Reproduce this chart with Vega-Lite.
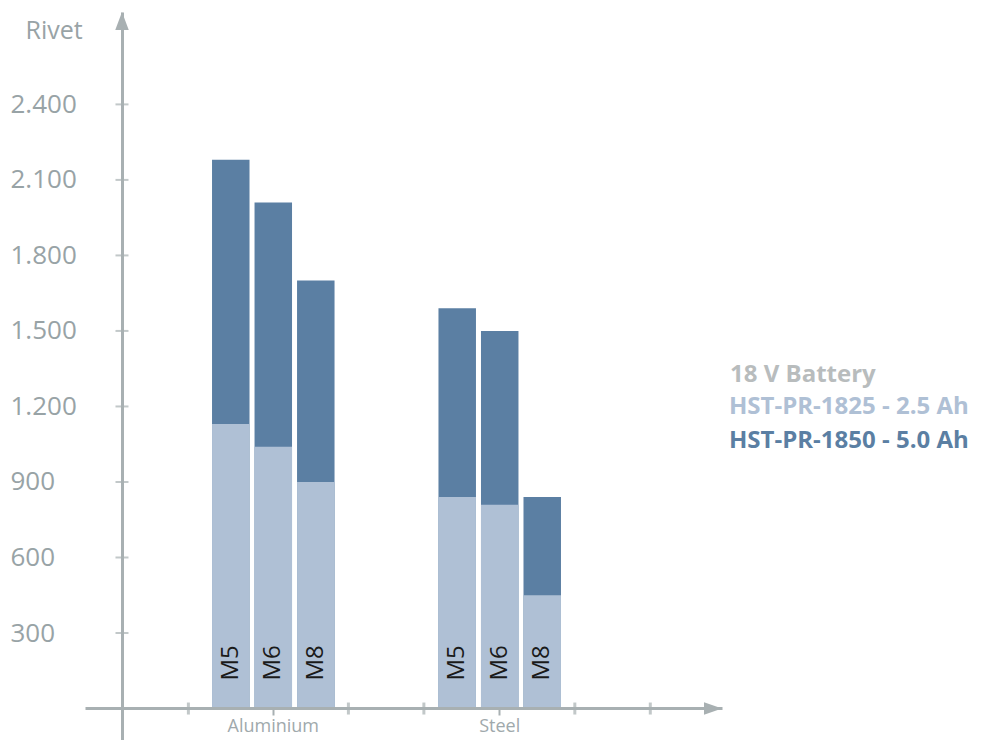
{
  "$schema": "https://vega.github.io/schema/vega-lite/v6.json",
  "autosize": {"type": "none"},
  "width": 637,
  "height": 728,
  "padding": {"left": 85, "top": 12, "right": 266, "bottom": 0},
  "background": "white",
  "config": {
    "view": {"stroke": null},
    "font": "Open Sans"
  },
  "layer": [
    {
      "data": {
        "values": [
          {"material": "Aluminium", "size": "M5", "battery": "HST-PR-1850 - 5.0 Ah", "rivets": 2180},
          {"material": "Aluminium", "size": "M6", "battery": "HST-PR-1850 - 5.0 Ah", "rivets": 2010},
          {"material": "Aluminium", "size": "M8", "battery": "HST-PR-1850 - 5.0 Ah", "rivets": 1700},
          {"material": "Steel", "size": "M5", "battery": "HST-PR-1850 - 5.0 Ah", "rivets": 1590},
          {"material": "Steel", "size": "M6", "battery": "HST-PR-1850 - 5.0 Ah", "rivets": 1500},
          {"material": "Steel", "size": "M8", "battery": "HST-PR-1850 - 5.0 Ah", "rivets": 840},
          {"material": "Aluminium", "size": "M5", "battery": "HST-PR-1825 - 2.5 Ah", "rivets": 1130},
          {"material": "Aluminium", "size": "M6", "battery": "HST-PR-1825 - 2.5 Ah", "rivets": 1040},
          {"material": "Aluminium", "size": "M8", "battery": "HST-PR-1825 - 2.5 Ah", "rivets": 900},
          {"material": "Steel", "size": "M5", "battery": "HST-PR-1825 - 2.5 Ah", "rivets": 840},
          {"material": "Steel", "size": "M6", "battery": "HST-PR-1825 - 2.5 Ah", "rivets": 810},
          {"material": "Steel", "size": "M8", "battery": "HST-PR-1825 - 2.5 Ah", "rivets": 450}
        ]
      },
      "encoding": {
        "x": {
          "field": "material",
          "type": "nominal",
          "scale": {"paddingInner": 0.459, "paddingOuter": 0.636, "align": 0.441},
          "axis": {
            "orient": "bottom",
            "offset": -32,
            "zindex": 1,
            "title": null,
            "labelAngle": 0,
            "labelFontSize": 18,
            "labelColor": "#a0a9ac",
            "labelPadding": 2,
            "tickColor": "#a8b0b2",
            "tickWidth": 2,
            "tickSize": 7,
            "domainColor": "#a8b0b2",
            "domainWidth": 3
          }
        },
        "xOffset": {
          "field": "size",
          "type": "nominal",
          "scale": {"paddingInner": 0.118, "paddingOuter": 0}
        },
        "y": {
          "field": "rivets",
          "type": "quantitative",
          "stack": null,
          "scale": {"domain": [-125, 2767], "nice": false, "zero": false},
          "axis": {
            "orient": "left",
            "offset": -37,
            "values": [300, 600, 900, 1200, 1500, 1800, 2100, 2400],
            "labelExpr": "replace(format(datum.value, ','), ',', '.')",
            "labelAlign": "left",
            "labelBaseline": "middle",
            "labelPadding": 112,
            "labelOverlap": false,
            "labelFontSize": 26,
            "labelColor": "#98a3a6",
            "ticks": false,
            "grid": false,
            "domainColor": "#a8b0b2",
            "domainWidth": 3,
            "title": "Rivet",
            "titleAngle": 0,
            "titleX": -97,
            "titleY": 18,
            "titleAlign": "left",
            "titleBaseline": "middle",
            "titleFontSize": 25,
            "titleFontWeight": "normal",
            "titleColor": "#98a3a6"
          }
        }
      },
      "layer": [
        {
          "mark": {"type": "bar"},
          "encoding": {
            "color": {
              "field": "battery",
              "type": "nominal",
              "scale": {
                "domain": ["HST-PR-1825 - 2.5 Ah", "HST-PR-1850 - 5.0 Ah"],
                "range": ["#afc0d5", "#5b7fa3"]
              },
              "legend": {
                "orient": "none",
                "legendX": 645,
                "legendY": 351,
                "title": "18 V Battery",
                "titleFontSize": 24,
                "titleFontWeight": "bold",
                "titleColor": "#b8bcbd",
                "titlePadding": 8,
                "labelFontSize": 24,
                "labelFontWeight": "bold",
                "labelColor": {"expr": "datum.label == 'HST-PR-1825 - 2.5 Ah' ? '#afc0d5' : '#5b7fa3'"},
                "labelLimit": 400,
                "labelOffset": -25,
                "symbolSize": 0,
                "symbolOpacity": 0,
                "symbolStrokeWidth": 0,
                "rowPadding": 10
              }
            }
          }
        },
        {
          "transform": [{"filter": "datum.battery == 'HST-PR-1850 - 5.0 Ah'"}],
          "mark": {
            "type": "text",
            "angle": 270,
            "align": "left",
            "baseline": "middle",
            "dx": 28,
            "fontSize": 24,
            "color": "#1a1a1a"
          },
          "encoding": {
            "y": {"datum": 0, "type": "quantitative"},
            "text": {"field": "size"}
          }
        }
      ]
    },
    {
      "encoding": {
        "x": {
          "type": "quantitative",
          "scale": {"domain": [-0.49, 7.95], "nice": false, "zero": false},
          "axis": null
        }
      },
      "layer": [
        {
          "data": {"values": [{"t": 300}, {"t": 600}, {"t": 900}, {"t": 1200}, {"t": 1500}, {"t": 1800}, {"t": 2100}, {"t": 2400}]},
          "mark": {"type": "tick", "orient": "horizontal", "size": 13, "thickness": 2, "color": "#a8b0b2"},
          "encoding": {
            "x": {"datum": 0, "type": "quantitative"},
            "y": {"field": "t", "type": "quantitative"}
          }
        },
        {
          "data": {"values": [{"u": 0.88}, {"u": 3}, {"u": 4}, {"u": 6}, {"u": 7}]},
          "mark": {"type": "tick", "orient": "vertical", "size": 12, "thickness": 3, "color": "#a8b0b2"},
          "encoding": {
            "x": {"field": "u", "type": "quantitative"},
            "y": {"datum": 0, "type": "quantitative"}
          }
        },
        {
          "data": {"values": [{"arrow": "y"}]},
          "mark": {"type": "point", "shape": "M0,0L0.75,2L-0.75,2Z", "size": 324, "filled": true, "opacity": 1, "color": "#a8b0b2"},
          "encoding": {
            "x": {"datum": 0, "type": "quantitative"},
            "y": {"datum": 2767, "type": "quantitative"}
          }
        },
        {
          "data": {"values": [{"arrow": "x"}]},
          "mark": {"type": "point", "shape": "M0,0L-2,-0.7L-2,0.7Z", "size": 324, "filled": true, "opacity": 1, "color": "#a8b0b2"},
          "encoding": {
            "x": {"datum": 7.95, "type": "quantitative"},
            "y": {"datum": 0, "type": "quantitative"}
          }
        }
      ]
    }
  ],
  "resolve": {"scale": {"x": "independent"}}
}
